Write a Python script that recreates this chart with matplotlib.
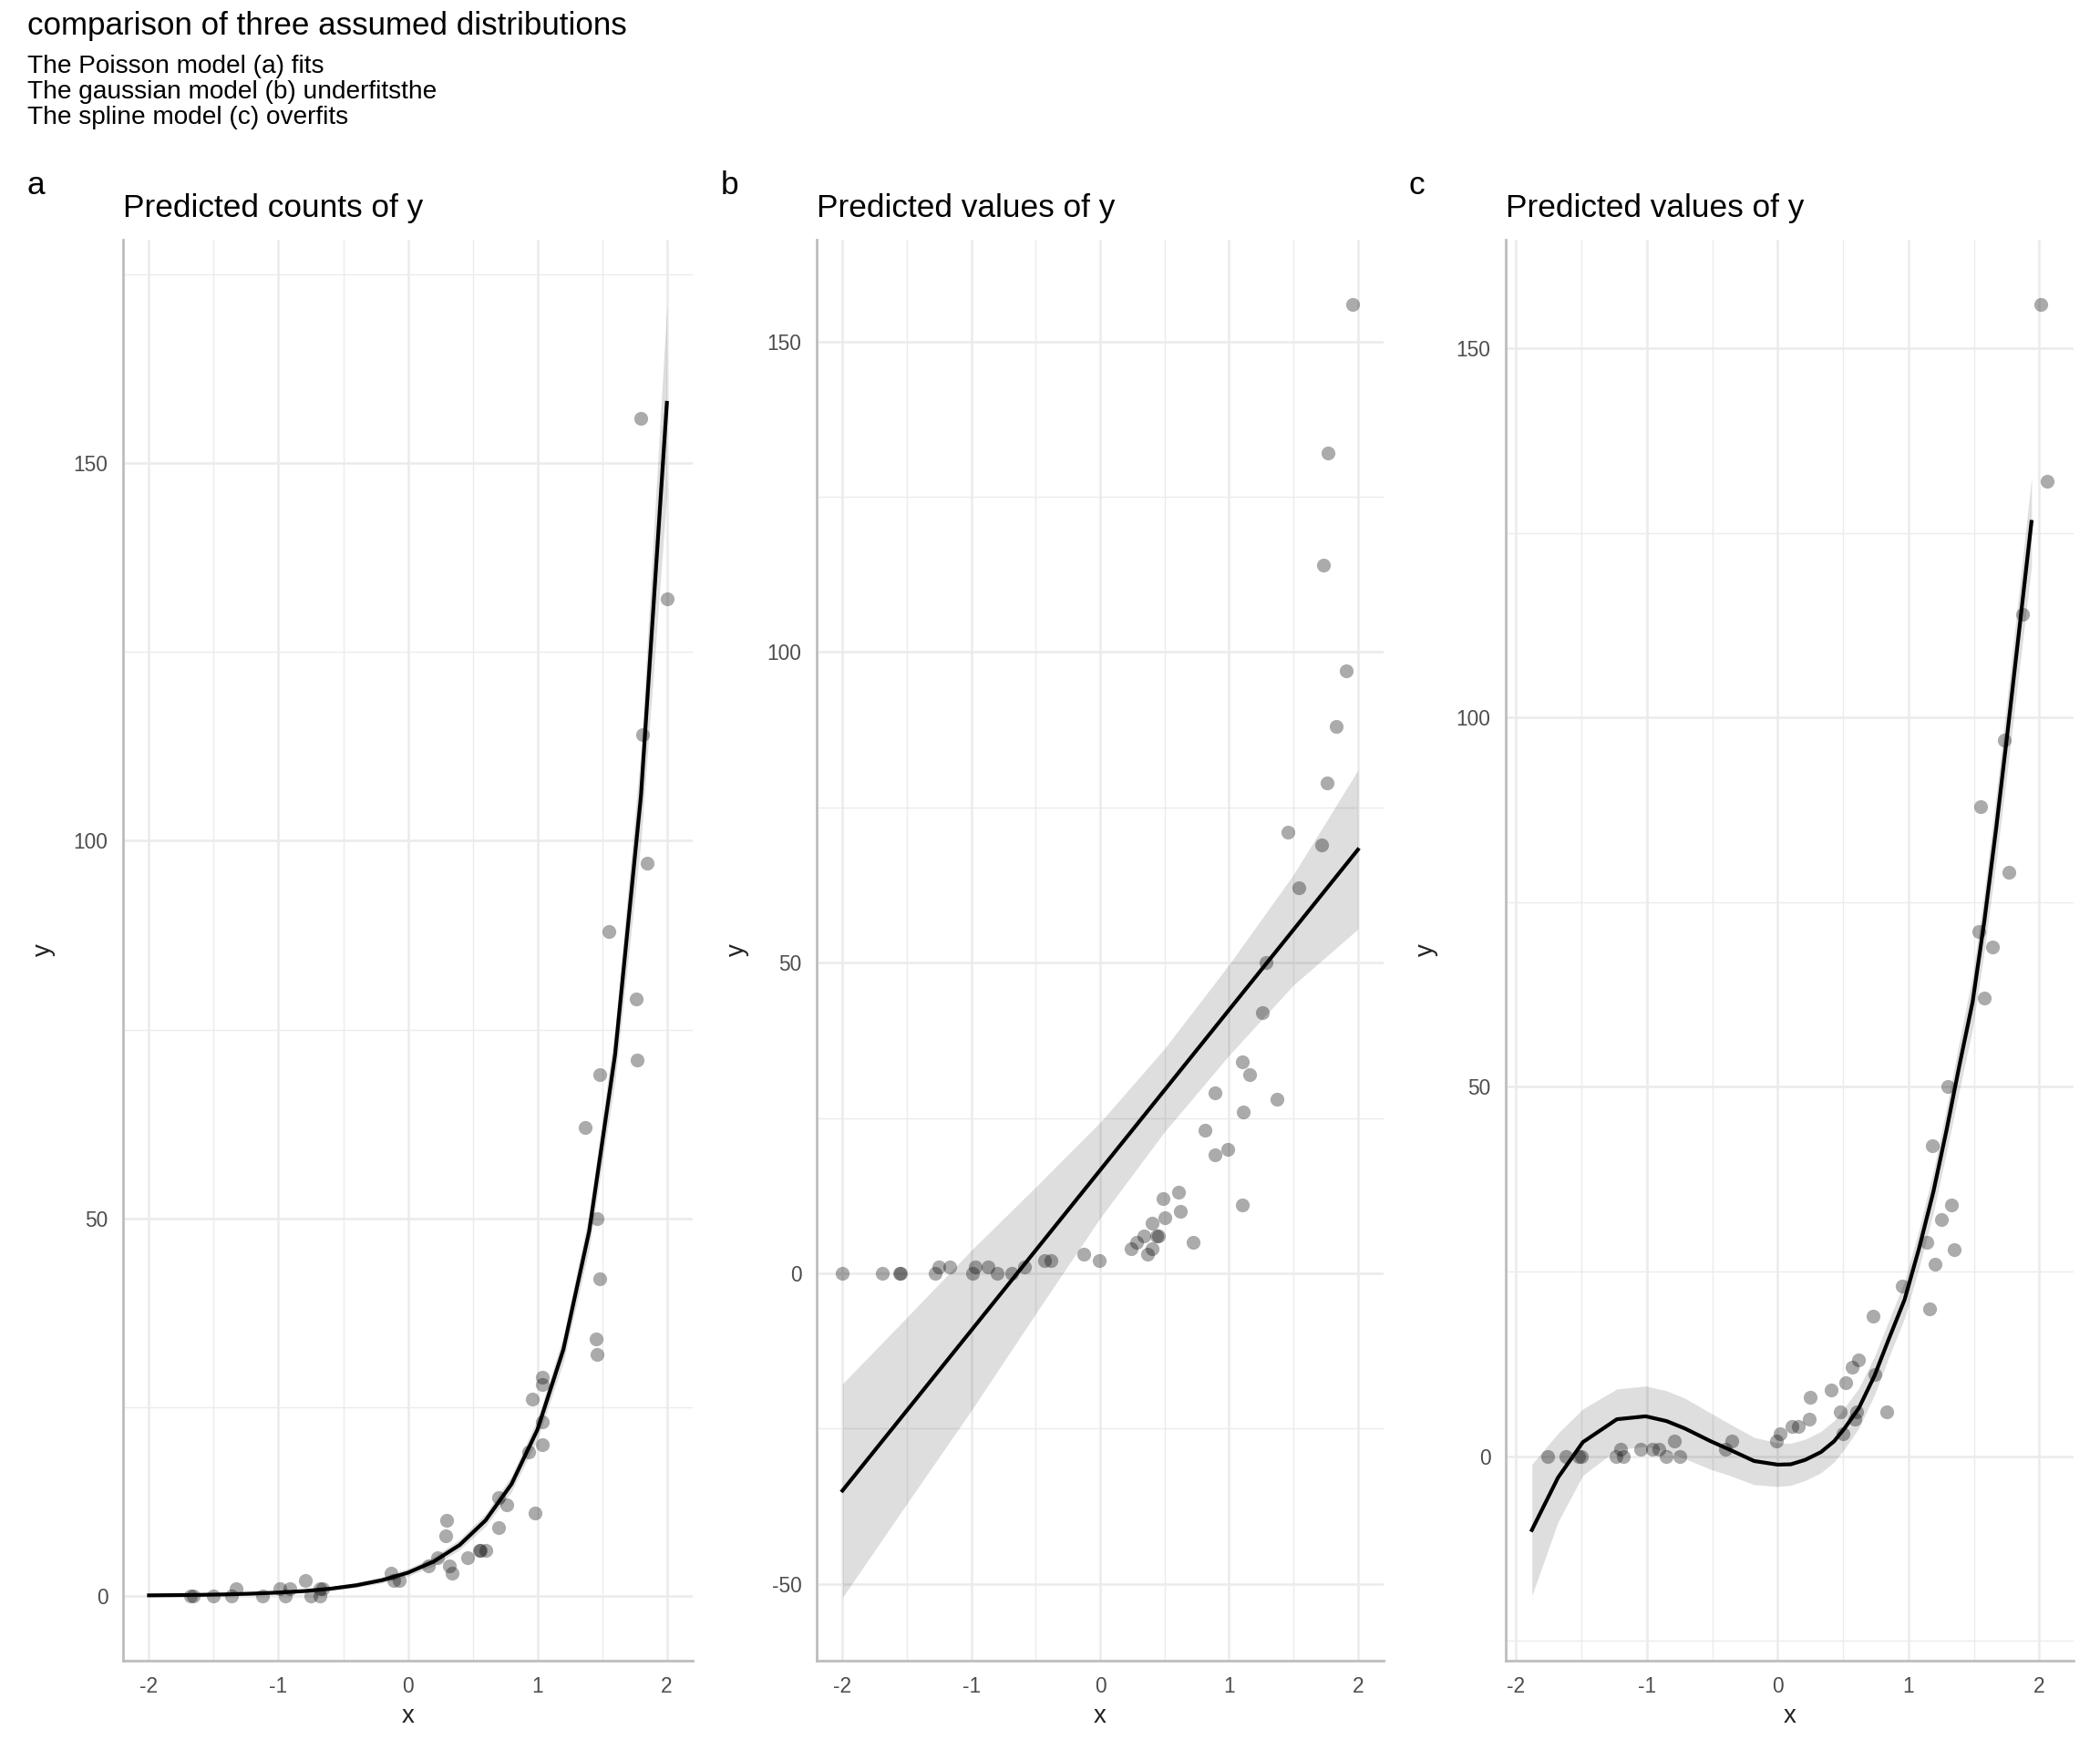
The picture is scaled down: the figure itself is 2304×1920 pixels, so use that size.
import matplotlib
matplotlib.use("Agg")
import matplotlib.pyplot as plt
from matplotlib.ticker import MultipleLocator

plt.rcParams["font.family"] = ["Liberation Sans", "DejaVu Sans"]
plt.rcParams["axes.unicode_minus"] = False

# observed counts (shared), and the jittered x positions shown in each panel
counts = [0, 0, 0, 0, 0, 0, 0, 0, 1, 1, 1, 1, 1, 2, 2, 2, 3, 3, 4, 4, 5, 5,
          6, 6, 6, 8, 9, 10, 11, 12, 13, 19, 20, 23, 26, 28, 29, 32, 34, 42,
          50, 62, 69, 71, 79, 88, 97, 114, 132, 156]
x_pois = [-1.68, -1.66, -1.50, -1.36, -1.12, -0.95, -0.75, -0.68,
          -1.33, -0.99, -0.91, -0.68, -0.66, -0.79, -0.11, -0.07,
          -0.13, 0.34, 0.16, 0.32, 0.23, 0.46, 0.55, 0.56, 0.60,
          0.29, 0.70, 0.30, 0.98, 0.76, 0.70, 0.93, 1.04, 1.04, 0.96,
          1.04, 1.04, 1.46, 1.45, 1.48, 1.46, 1.37, 1.48, 1.77, 1.76,
          1.55, 1.85, 1.81, 2.00, 1.80]
x_gaus = [-2.00, -1.69, -1.56, -1.55, -1.28, -0.99, -0.80, -0.69,
          -1.25, -1.17, -0.97, -0.87, -0.59, -0.43, -0.38, -0.01,
          -0.13, 0.37, 0.24, 0.40, 0.28, 0.72, 0.34, 0.44, 0.45,
          0.40, 0.50, 0.62, 1.10, 0.49, 0.61, 0.89, 0.99, 0.81, 1.11,
          1.37, 0.89, 1.16, 1.10, 1.26, 1.29, 1.54, 1.72, 1.46, 1.76,
          1.83, 1.91, 1.73, 1.77, 1.96]
x_spline = [-1.76, -1.62, -1.52, -1.50, -1.24, -1.18, -0.85, -0.75,
            -1.20, -1.05, -0.96, -0.91, -0.40, -0.79, -0.35, -0.01,
            0.02, 0.50, 0.11, 0.16, 0.24, 0.59, 0.48, 0.60, 0.83,
            0.25, 0.41, 0.52, 0.74, 0.57, 0.62, 0.73, 1.16, 0.95, 1.20,
            1.35, 1.14, 1.25, 1.33, 1.18, 1.30, 1.58, 1.64, 1.54, 1.77,
            1.55, 1.73, 1.87, 2.06, 2.01]

# (a) Poisson predictions
pois_x = [-2.0, -1.8, -1.6, -1.4, -1.2, -1.0, -0.8, -0.6, -0.4, -0.2, 0.0,
          0.2, 0.4, 0.6, 0.8, 1.0, 1.2, 1.4, 1.6, 1.8, 2.0]
pois_fit = [0.06, 0.09, 0.13, 0.19, 0.29, 0.43, 0.63, 0.94, 1.39, 2.07, 3.06,
            4.55, 6.74, 10.0, 14.8, 22.0, 32.6, 48.3, 71.7, 106.0, 158.0]
pois_lo = [0.03, 0.05, 0.08, 0.12, 0.19, 0.30, 0.46, 0.72, 1.10, 1.70, 2.60,
           4.00, 6.10, 9.20, 13.8, 20.7, 30.9, 46.0, 68.3, 100.0, 146.0]
pois_hi = [0.12, 0.16, 0.21, 0.29, 0.43, 0.60, 0.86, 1.22, 1.75, 2.50, 3.60,
           5.20, 7.50, 10.9, 15.9, 23.4, 34.4, 50.7, 75.3, 112.0, 171.0]

# (b) gaussian predictions
gaus_x = [-2.0, -1.5, -1.0, -0.5, 0.0, 0.5, 1.0, 1.5, 2.0]
gaus_fit = [-35.0, -22.1, -9.2, 3.7, 16.6, 29.5, 42.4, 55.3, 68.2]
gaus_lo = [-52.2, -37.1, -22.1, -6.5, 8.9, 22.8, 35.1, 46.4, 55.4]
gaus_hi = [-17.8, -7.1, 3.7, 13.9, 24.3, 36.2, 49.7, 64.2, 81.0]

# (c) spline predictions
spl_x = [-1.88, -1.68, -1.49, -1.23, -1.01, -0.85, -0.71, -0.51, -0.37, -0.18,
         0.00, 0.10, 0.21, 0.33, 0.43, 0.51, 0.62, 0.74, 0.85, 0.97,
         1.08, 1.19, 1.29, 1.39, 1.49, 1.58, 1.67, 1.76, 1.86, 1.94]
spl_fit = [-10.0, -2.9, 1.9, 5.0, 5.4, 4.75, 3.75, 2.0, 0.9, -0.66,
           -1.15, -1.1, -0.5, 0.55, 2.0, 3.75, 6.5, 10.9, 15.9, 21.2,
           28.1, 35.8, 44.1, 53.0, 61.5, 72.5, 85.0, 98.5, 114.0, 126.5]
spl_lo = [-18.9, -8.9, -2.6, 0.9, 1.3, 0.65, -0.35, -1.8, -2.6, -3.86,
          -4.1, -3.95, -3.3, -2.25, -0.8, 0.95, 3.8, 8.3, 13.4, 18.7,
          25.5, 33.0, 41.1, 49.7, 57.9, 68.5, 80.5, 93.5, 108.5, 120.5]
spl_hi = [-1.1, 3.1, 6.4, 9.1, 9.5, 8.85, 7.85, 5.8, 4.4, 2.54,
          1.8, 1.75, 2.3, 3.35, 4.8, 6.55, 9.2, 13.5, 18.4, 23.7,
          30.7, 38.6, 47.1, 56.3, 65.1, 76.5, 89.5, 103.5, 119.5, 132.5]

panels = [
    ("a", "Predicted counts of y", x_pois, pois_x, pois_fit, pois_lo, pois_hi,
     (-2.2, 2.2), (-8.6, 179.6), [0, 50, 100, 150]),
    ("b", "Predicted values of y", x_gaus, gaus_x, gaus_fit, gaus_lo, gaus_hi,
     (-2.2, 2.2), (-62.4, 166.4), [-50, 0, 50, 100, 150]),
    ("c", "Predicted values of y", x_spline, spl_x, spl_fit, spl_lo, spl_hi,
     (-2.08, 2.26), (-27.7, 164.7), [0, 50, 100, 150]),
]

fig = plt.figure(figsize=(11.52, 9.6), dpi=200)
lefts = [0.0586, 0.3889, 0.7170]
widths = [0.2713, 0.2700, 0.2703]
tag_x = [0.013, 0.343, 0.671]

for i, (tag, title, xs, fx, fy, flo, fhi, xlim, ylim, yticks) in enumerate(panels):
    ax = fig.add_axes([lefts[i], 0.051, widths[i], 0.812])
    ax.set_xlim(*xlim)
    ax.set_ylim(*ylim)
    ax.set_xticks([-2, -1, 0, 1, 2])
    ax.set_yticks(yticks)
    ax.xaxis.set_minor_locator(MultipleLocator(0.5))
    ax.yaxis.set_minor_locator(MultipleLocator(25))
    ax.grid(which="major", color="#ebebeb", linewidth=0.9)
    ax.grid(which="minor", color="#ebebeb", linewidth=0.5)
    ax.set_axisbelow(True)
    ax.tick_params(which="both", length=0, labelsize=8.2, labelcolor="#4d4d4d", pad=6)
    for side in ["top", "right"]:
        ax.spines[side].set_visible(False)
    for side in ["left", "bottom"]:
        ax.spines[side].set_color("#bdbdbd")
        ax.spines[side].set_linewidth(1.0)

    ax.fill_between(fx, flo, fhi, color="black", alpha=0.13, linewidth=0, zorder=2)
    ax.scatter(xs, counts, s=30, color="black", alpha=0.33, linewidths=0, zorder=3)
    ax.plot(fx, fy, color="black", linewidth=1.5, zorder=4)

    ax.set_xlabel("x", fontsize=10, color="#222222", labelpad=3)
    ax.set_ylabel("y", fontsize=10, color="#222222", labelpad=7)
    ax.set_title(title, loc="left", fontsize=12.7, pad=9)
    fig.text(tag_x[i], 0.894, tag, fontsize=12.7, va="center", ha="left")

fig.text(0.013, 0.994, "comparison of three assumed distributions",
         fontsize=12.6, va="top", ha="left")
fig.text(0.013, 0.969,
         "The Poisson model (a) fits\n"
         "The gaussian model (b) underfitsthe\n"
         "The spline model (c) overfits",
         fontsize=10.1, va="top", ha="left", linespacing=1.12)

fig.savefig("out.png", dpi=200, facecolor="white")
